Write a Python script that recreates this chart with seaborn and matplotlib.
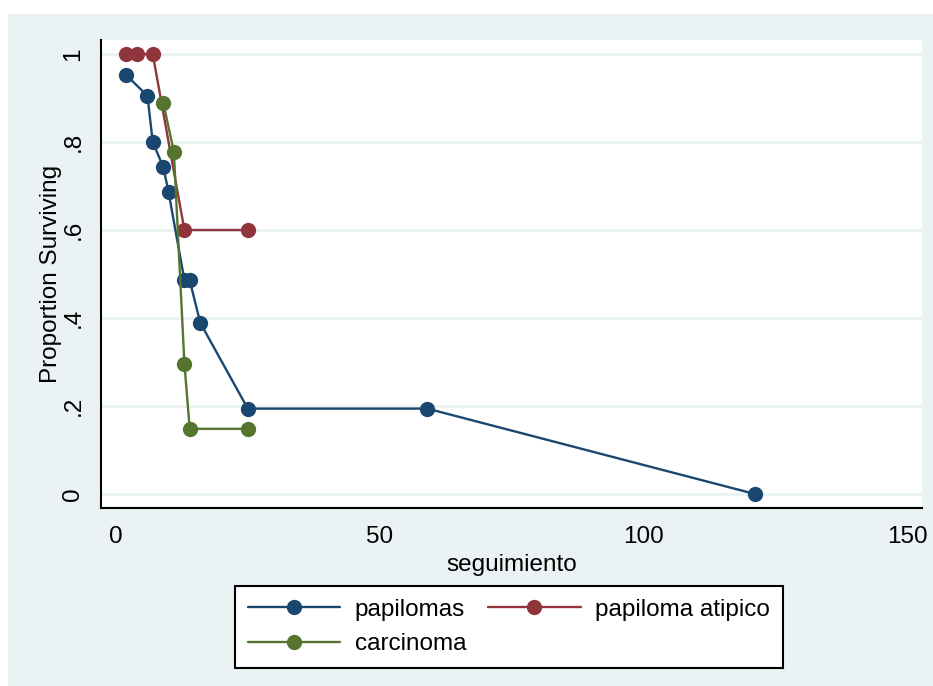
import numpy as np
import pandas as pd
import matplotlib
matplotlib.use("Agg")
import matplotlib.pyplot as plt
from matplotlib.patches import Rectangle
import seaborn as sns

# survival estimates
pap_t = [2, 6, 7, 9, 10, 13, 14, 16, 25, 59, 121]
pap_s = [0.952, 0.905, 0.800, 0.743, 0.686, 0.486, 0.486, 0.389, 0.194, 0.194, 0.0]
atip_t = [2, 4, 7, 13, 25]
atip_s = [1.0, 1.0, 1.0, 0.6, 0.6]
carc_t = [9, 11, 13, 14, 25]
carc_s = [0.889, 0.778, 0.296, 0.148, 0.148]

groups = ["papilomas", "papiloma atipico", "carcinoma"]
colors = {"papilomas": "#1A476F", "papiloma atipico": "#90353B", "carcinoma": "#55752F"}
xticks = [0, 50, 100, 150]
yticks = [0, 0.2, 0.4, 0.6, 0.8, 1]
yticklabels = ["0", ".2", ".4", ".6", ".8", "1"]

df = pd.concat([
    pd.DataFrame({"seguimiento": pap_t, "surv": pap_s, "grupo": groups[0]}),
    pd.DataFrame({"seguimiento": atip_t, "surv": atip_s, "grupo": groups[1]}),
    pd.DataFrame({"seguimiento": carc_t, "surv": carc_s, "grupo": groups[2]}),
], ignore_index=True)

sns.set_style("white")
plt.rcParams["font.family"] = ["Liberation Sans", "DejaVu Sans"]
for k in ["text.color", "axes.labelcolor", "xtick.color", "ytick.color"]:
    plt.rcParams[k] = "black"
fs = 17.5
ms = 11
lw = 1.7

bg = "#EAF2F3"
W, H = 933, 686
fig = plt.figure(figsize=(W / 100, H / 100), dpi=100, facecolor=bg)
# white strips along the top and left edge of the original export
fig.patches.append(Rectangle((0, (H - 14) / H), 1, 14 / H, transform=fig.transFigure,
                             facecolor="white", edgecolor="none"))
fig.patches.append(Rectangle((0, 0), 8 / W, 1, transform=fig.transFigure,
                             facecolor="white", edgecolor="none"))
ax = fig.add_axes([101 / W, (H - 508) / H, (922 - 101) / W, (508 - 40) / H])
ax.set_facecolor("white")

sns.lineplot(data=df, x="seguimiento", y="surv", hue="grupo", hue_order=groups,
             palette=colors, marker="o", markersize=ms, markeredgewidth=0,
             linewidth=lw, estimator=None, sort=False, ax=ax, legend=False)

ax.set_xlim(-2.8, 152.7)
ax.set_ylim(-0.032, 1.032)
ax.set_xticks(xticks)
ax.set_yticks(yticks)
ax.set_yticklabels(yticklabels, rotation=90, va="center")
ax.grid(axis="y", color=bg, linewidth=2)
ax.grid(axis="x", visible=False)
for s in ["top", "right"]:
    ax.spines[s].set_visible(False)
for s in ["left", "bottom"]:
    ax.spines[s].set_color("black")
    ax.spines[s].set_linewidth(1.5)
ax.tick_params(axis="x", length=7, width=1.5, direction="out", pad=6, labelsize=fs)
ax.tick_params(axis="y", length=6, width=1.5, direction="out", pad=6, labelsize=fs)
ax.set_xlabel("seguimiento", fontsize=fs, labelpad=4)
ax.set_ylabel("Proportion Surviving", fontsize=fs, labelpad=0.5)

handles = [plt.Line2D([], [], color=colors[g], marker="o", markersize=ms,
                      markeredgewidth=0, linewidth=lw) for g in groups]
# reorder so the legend fills row-wise like the original
order = [0, 2, 1]
leg = fig.legend([handles[i] for i in order], [groups[i] for i in order],
                 loc="center", bbox_to_anchor=(509 / W, 1 - 627 / H), ncol=2,
                 frameon=True, fancybox=False, edgecolor="black", framealpha=1,
                 handlelength=3.8, columnspacing=0.9, handletextpad=0.6,
                 labelspacing=0.5, borderpad=0.55, fontsize=fs)
leg.get_frame().set_linewidth(1.5)

fig.savefig("out.png", dpi=100, facecolor=fig.get_facecolor())
